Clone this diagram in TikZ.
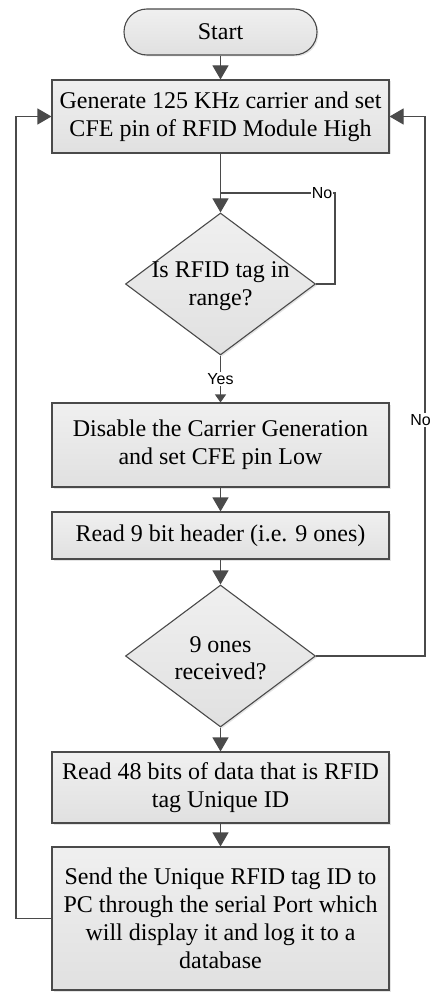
\documentclass[tikz,border=0pt]{standalone}
\usepackage{fontspec}
\setmainfont{Liberation Serif}
\newfontfamily\lblfont{Liberation Sans}
\usetikzlibrary{arrows.meta,shapes.geometric,shadows}
\definecolor{linec}{HTML}{4A4A4A}
\tikzset{
  boxfill/.style={draw=linec, line width=1.1pt, top color=gray!12, bottom color=gray!24,
    drop shadow={shadow xshift=1.5pt, shadow yshift=-1.5pt, fill=gray!35, opacity=0.6}},
  proc/.style={boxfill, rectangle, minimum width=337pt, align=center, inner sep=0pt,
    font=\fontsize{24}{28}\selectfont},
  term/.style={boxfill, rectangle, rounded corners=23pt, minimum width=193pt, minimum height=46pt,
    inner sep=0pt, font=\fontsize{24}{28}\selectfont},
  decis/.style={boxfill, diamond, minimum width=190pt, minimum height=142pt, inner sep=0pt},
  dtext/.style={align=center, inner sep=0pt, font=\fontsize{24}{27.5}\selectfont},
  conn/.style={draw=linec, line width=1.1pt},
  arr/.style={conn, -{Triangle[length=14pt,width=16pt]}},
  sarr/.style={conn, -{Triangle[length=8pt,width=11pt]}},
  yn/.style={fill=white, inner sep=1pt, font=\lblfont\fontsize{16}{18}\selectfont}
}
\begin{document}
\begin{tikzpicture}[x=1pt,y=-1pt]
\useasboundingbox (0,0) rectangle (433,992);
\node[term] (start) at (220.5,32) {Start};
\node[proc, minimum height=73pt] (b1) at (220.5,116.5) {Generate 125 KHz carrier and set\\CFE pin of RFID Module High};
\node[decis] (d1) at (220.5,284) {};
\node[dtext] (d1t) at (220.5,286) {Is RFID tag in\\range?};
\node[proc, minimum height=84pt] (b2) at (220.5,445) {Disable the Carrier Generation\\and set CFE pin Low};
\node[proc, minimum height=47pt] (b3) at (220.5,535.5) {Read 9 bit header (i.e. 9 ones)};
\node[decis] (d2) at (220.5,656) {};
\node[dtext] (d2t) at (220.5,658) {9 ones\\received?};
\node[proc, minimum height=71pt] (b4) at (220.5,787.5) {Read 48 bits of data that is RFID\\tag Unique ID};
\node[proc, minimum height=143pt] (b5) at (220.5,918.5) {Send the Unique RFID tag ID to\\PC through the serial Port which\\will display it and log it to a\\database};

\coordinate (n1) at (335,193);
\coordinate (rc) at (425,420);
\coordinate (lc) at (16,0);

\draw[arr] (start) -- (b1);
\draw[arr] (b1) -- (d1);
\draw[conn] (d1.east) -| (n1) -- (n1 -| d1.north);
\node[yn] (no1) at (322,193) {No};
\draw[sarr] (d1.south) -- node[yn] (yes1) {Yes} (b2.north);
\draw[arr] (b2) -- (b3);
\draw[arr] (b3) -- (d2);
\draw[arr] (d2) -- (b4);
\draw[arr] (b4) -- (b5);
\draw[arr] (d2.east) -| (rc) |- (b1.east);
\node[yn] (no2) at (420.5,420) {No};
\draw[arr] (b5.west) -| (lc |- b1.west) -- (b1.west);
\end{tikzpicture}
\end{document}
